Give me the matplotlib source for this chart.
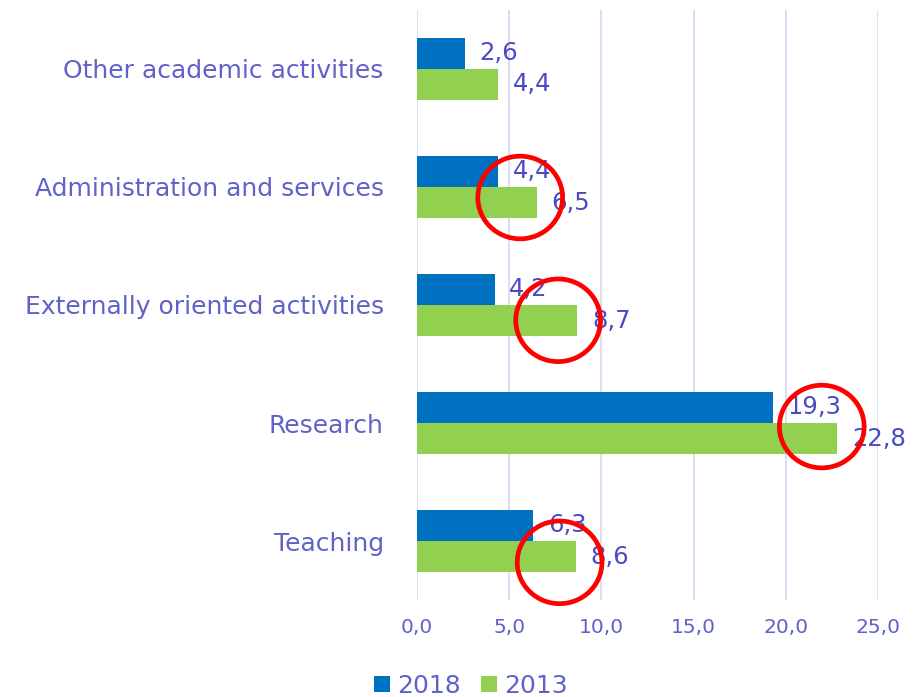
import matplotlib
matplotlib.use("Agg")
import matplotlib.pyplot as plt
from matplotlib.patches import Ellipse
import numpy as np

# data (bottom to top)
categories = ["Teaching", "Research", "Externally oriented activities",
              "Administration and services", "Other academic activities"]
vals_2018 = [6.3, 19.3, 4.2, 4.4, 2.6]
vals_2013 = [8.6, 22.8, 8.7, 6.5, 4.4]
xticks = [0, 5, 10, 15, 20, 25]

# red hand-drawn circles: x value, category index, offset below centre
circle_x = [7.73, 21.96, 7.65, 5.59]
circle_cat = [0, 1, 2, 3]
circle_dy = [0.18, 0.03, 0.13, 0.09]

BLUE = "#0070C0"
GREEN = "#92D050"
LABEL = "#5E62C9"
VALUE = "#4A4AC4"
GRID = "#DADAF2"

plt.rcParams["font.family"] = ["DejaVu Sans"]

fig = plt.figure(figsize=(9.23, 6.97), dpi=100)
ax = fig.add_axes([0.452, 0.139, 0.499, 0.847])

y = np.arange(len(categories))
h = 0.265
b1 = ax.barh(y + h / 2, vals_2018, height=h, color=BLUE, label="2018", zorder=2)
b2 = ax.barh(y - h / 2, vals_2013, height=h, color=GREEN, label="2013", zorder=2)

fmt = lambda v: f"{v:.1f}".replace(".", ",")
ax.bar_label(b1, labels=[fmt(v) for v in vals_2018], padding=10.5,
             color=VALUE, fontsize=17.5, clip_on=False)
ax.bar_label(b2, labels=[fmt(v) for v in vals_2013], padding=10.5,
             color=VALUE, fontsize=17.5, clip_on=False)

for cx, ci, dy in zip(circle_x, circle_cat, circle_dy):
    e = Ellipse((cx, ci - dy), width=4.6, height=0.70, fill=False,
                edgecolor="#FF0000", linewidth=3.4, zorder=5, clip_on=False)
    ax.add_patch(e)

ax.set_xlim(0, 25)
ax.set_ylim(-0.5, len(categories) - 0.5)
ax.set_xticks(xticks)
ax.set_xticklabels([fmt(v) for v in xticks])
ax.set_yticks(y)
ax.set_yticklabels(categories)
ax.tick_params(axis="y", length=0, pad=24, labelsize=18, labelcolor=LABEL)
ax.tick_params(axis="x", length=0, pad=13, labelsize=14.5, labelcolor=LABEL)
ax.grid(axis="x", color=GRID, linewidth=1.3, zorder=0)
for s in ax.spines.values():
    s.set_visible(False)

leg = fig.legend(handles=[b1, b2], loc="center", bbox_to_anchor=(0.51, 0.016),
                 ncol=2, frameon=False, fontsize=18, handlelength=0.64,
                 handleheight=0.64, handletextpad=0.3, columnspacing=0.8,
                 borderpad=0)
for t in leg.get_texts():
    t.set_color(LABEL)

fig.savefig("out.png", dpi=100)
